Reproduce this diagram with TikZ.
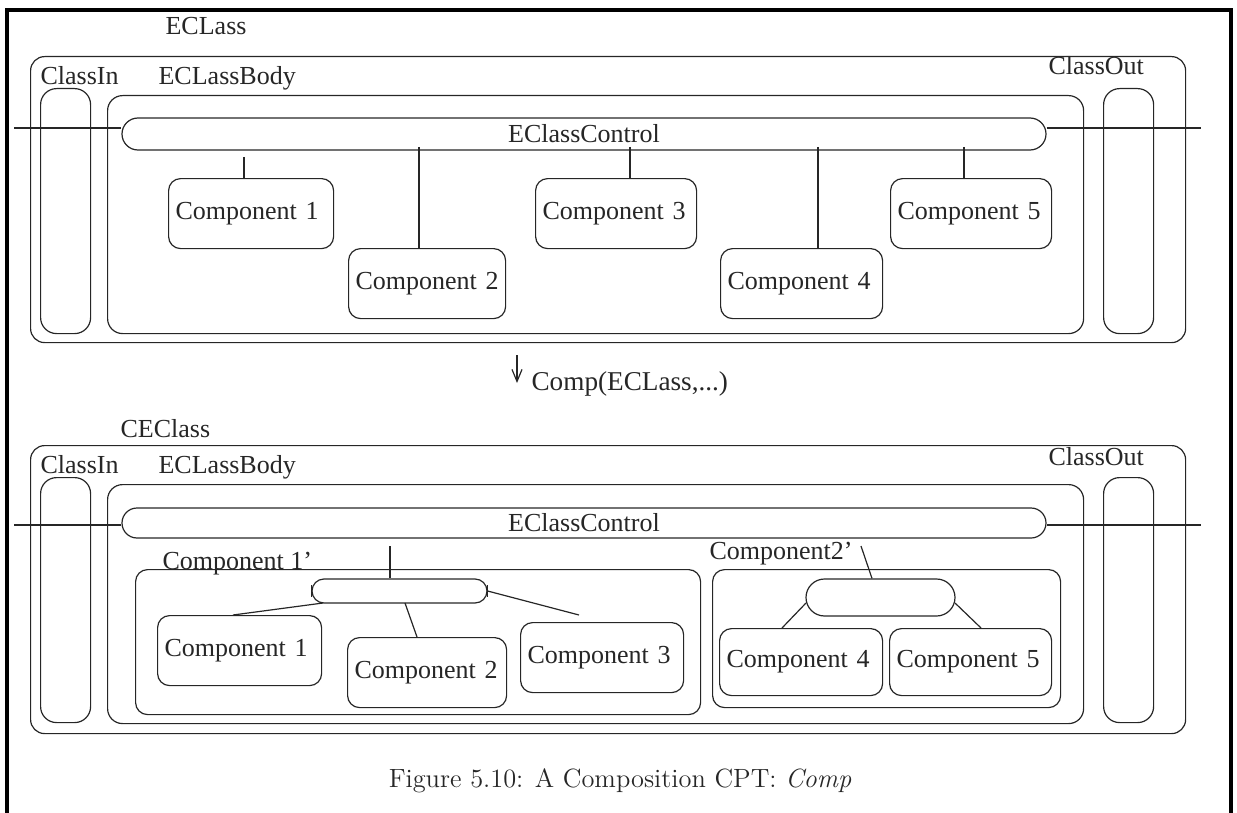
\documentclass[tikz,border=0pt]{standalone}
\usepackage{fontspec}
\newfontfamily\figfont{Liberation Serif}
\usetikzlibrary{shapes.misc,arrows.meta}

\tikzset{
  lbl/.style={font=\figfont\fontsize{13}{15}\selectfont, inner sep=0pt, anchor=base west},
  frame/.style={draw, rounded corners=7pt, inner sep=0pt, anchor=north west},
  port/.style={draw, rounded corners=8pt, inner sep=0pt, anchor=north west,
               minimum width=25pt, minimum height=122.5pt},
  ctrl/.style={draw, rounded rectangle, inner sep=0pt,
               font=\figfont\fontsize{13}{15}\selectfont},
  compbox/.style={draw, rounded corners=6pt, anchor=north west, inner xsep=3.5pt,
                  align=left, text width=#1, minimum height=35pt,
                  font=\figfont\fontsize{13}{15}\selectfont},
}

\begin{document}
\begin{tikzpicture}[x=0.5pt, y=-0.5pt, line width=0.6pt, color=black!85]
\useasboundingbox (0,0) rectangle (1237,813);

% page frame
\draw[line width=2pt, black] (7,813) -- (7,10) -- (1231,10) -- (1231,813);

% ---------------- upper class ----------------
\node[lbl] (tEC) at (165,35) {ECLass};
\node[frame, minimum width=577.5pt, minimum height=143pt] (tOuter) at (30,56) {};
\node[lbl] (tInL) at (40,85) {ClassIn};
\node[lbl] (tBodyL) at (158,85) {ECLassBody};
\node[lbl] (tOutL) at (1048,75) {ClassOut};
\node[port] (tIn) at (40,88) {};
\node[port] (tOut) at (1103,88) {};
\node[frame, rounded corners=7.5pt, minimum width=488pt, minimum height=119pt] (tBody) at (107,95) {};
\node[ctrl, minimum width=462pt, minimum height=16pt] (tCtl) at (584,134) {EClassControl};

\coordinate (tInEnd) at (14,128);
\coordinate (tOutEnd) at (1201,128);
\draw (tInEnd) -- (tCtl.west |- tInEnd);
\draw (tCtl.east |- tOutEnd) -- (tOutEnd);

\node[compbox=75.5pt] (c1) at (168,178) {Component 1};
\node[compbox=71.5pt] (c2) at (348,248) {Component 2};
\node[compbox=73.5pt] (c3) at (535,178) {Component 3};
\node[compbox=74pt]   (c4) at (720,248) {Component 4};
\node[compbox=73.5pt] (c5) at (890,178) {Component 5};

\coordinate (k1) at (244,157);
\coordinate (k2) at (419,147);
\coordinate (k3) at (630,147);
\coordinate (k4) at (818,147);
\coordinate (k5) at (964,147);
\draw (k1) -- (k1 |- c1.north);
\draw (k2) -- (k2 |- c2.north);
\draw (k3) -- (k3 |- c3.north);
\draw (k4) -- (k4 |- c4.north);
\draw (k5) -- (k5 |- c5.north);

% ---------------- transformation ----------------
\coordinate (arrTop) at (517,355);
\coordinate (arrTip) at (517,383);
\draw[-{Straight Barb[length=6pt,width=5pt]}] (arrTop) -- (arrTip);
\node[lbl, font=\figfont\fontsize{13.6}{15}\selectfont] (compL) at (531,390) {Comp(ECLass,...)};

% ---------------- composed class ----------------
\node[lbl] (bEC) at (120,437) {CEClass};
\node[frame, minimum width=577.5pt, minimum height=144pt] (bOuter) at (30,445) {};
\node[lbl] (bInL) at (40,473) {ClassIn};
\node[lbl] (bBodyL) at (158,473) {ECLassBody};
\node[lbl] (bOutL) at (1048,465) {ClassOut};
\node[port] (bIn) at (40,477) {};
\node[port] (bOut) at (1103,477) {};
\node[frame, rounded corners=7.5pt, minimum width=488pt, minimum height=119.5pt] (bBody) at (107,484) {};
\node[ctrl, minimum width=462pt, minimum height=15pt] (bCtl) at (584,523) {EClassControl};

\coordinate (bInEnd) at (14,525);
\coordinate (bOutEnd) at (1201,525);
\draw (bInEnd) -- (bCtl.west |- bInEnd);
\draw (bCtl.east |- bOutEnd) -- (bOutEnd);

% first composite
\node[frame, rounded corners=6pt, minimum width=282.5pt, minimum height=72.5pt] (g1) at (135,569) {};
\node[lbl] (g1L) at (162,569) {Component 1’};
\node[ctrl, minimum width=87.5pt, minimum height=12pt] (m1) at (399.5,591) {};
\draw (m1.west) ++(0,-6) -- ++(0,12);
\draw (m1.east) ++(0,-6) -- ++(0,12);
\node[compbox=75pt]   (d1) at (157,615) {Component 1};
\node[compbox=72.5pt] (d2) at (347,637) {Component 2};
\node[compbox=74.5pt] (d3) at (520,622) {Component 3};

\coordinate (q1) at (390,546);
\draw (q1) -- (q1 |- m1.north);
\coordinate (m1a) at (323,603);
\coordinate (d1a) at (233,615);
\draw (m1a) -- (d1a |- d1.north);
\coordinate (m1b) at (405,603);
\coordinate (d2a) at (417,637);
\draw (m1b) -- (d2a |- d2.north);
\coordinate (q3) at (579,615);
\draw (m1.east) -- (q3);

% second composite
\node[frame, rounded corners=6pt, minimum width=174pt, minimum height=69pt] (g2) at (712,569) {};
\node[lbl] (g2L) at (709,559) {Component2’};
\node[ctrl, minimum width=74.5pt, minimum height=18.5pt] (m2) at (880.5,597.5) {};
\node[compbox=74.5pt, minimum height=33.5pt] (d4) at (719,628) {Component 4};
\node[compbox=74pt,   minimum height=33.5pt] (d5) at (889,628) {Component 5};

\coordinate (q2) at (861,546);
\coordinate (m2t) at (872,579);
\coordinate (m2a) at (806,603);
\coordinate (d4a) at (782,628);
\coordinate (m2b) at (955,603);
\coordinate (d5a) at (981,628);
\draw (q2) -- (m2t |- m2.north);
\draw (m2a) -- (d4a |- d4.north);
\draw (m2b) -- (d5a |- d5.north);

% caption
\node[font=\fontsize{13.2}{16}\selectfont, anchor=base] (cap) at (620,787)
  {Figure 5.10: A Composition CPT: \textit{Comp}};
\end{tikzpicture}
\end{document}
